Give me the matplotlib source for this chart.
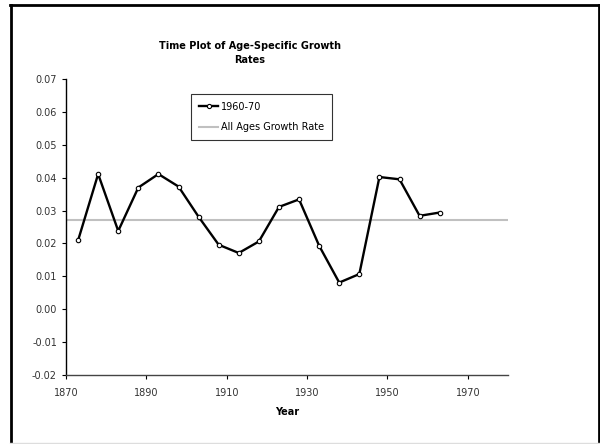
import matplotlib.pyplot as plt
from matplotlib.lines import Line2D

# data
years = [1873, 1878, 1883, 1888, 1893, 1898, 1903, 1908, 1913, 1918,
         1923, 1928, 1933, 1938, 1943, 1948, 1953, 1958, 1963]
rates_1960_70 = [0.0209, 0.0411, 0.0238, 0.0370, 0.0411, 0.0373, 0.0281,
                 0.0196, 0.0171, 0.0206, 0.0311, 0.0334, 0.0193, 0.0081,
                 0.0107, 0.0402, 0.0395, 0.0284, 0.0294]
all_ages_rate = 0.0272
x_ticks = [1870, 1890, 1910, 1930, 1950, 1970]
y_ticks = [-0.02, -0.01, 0.00, 0.01, 0.02, 0.03, 0.04, 0.05, 0.06, 0.07]

W, H = 600, 444
fig = plt.figure(figsize=(6, 4.44), dpi=100)
ax = fig.add_axes([66 / W, 1 - 375 / H, (508 - 66) / W, (375 - 79) / H])

ax.axhline(all_ages_rate, color='#c0c0c0', lw=1.5, label='All Ages Growth Rate', zorder=2)
ax.plot(years, rates_1960_70, color='black', lw=1.7, marker='o', ms=3.2,
        mfc='white', mec='black', mew=0.8, label='1960-70', zorder=3)

ax.set_xlim(1870, 1980)
ax.set_ylim(-0.02, 0.07)
ax.set_xticks(x_ticks)
ax.set_yticks(y_ticks)
ax.set_yticklabels(['%.2f' % v for v in y_ticks])
ax.tick_params(labelsize=7, colors='black', labelcolor='#333333', length=3, width=0.8, direction='out')
ax.tick_params(axis='x', pad=6)
for s in ['top', 'right']:
    ax.spines[s].set_visible(False)
ax.spines['left'].set_linewidth(1.0)
ax.spines['bottom'].set_linewidth(1.0)
ax.spines['bottom'].set_color('#444444')
ax.set_xlabel('Year', fontsize=7, fontweight='bold', labelpad=7)

# legend, order as in the reference
h, l = ax.get_legend_handles_labels()
leg = ax.legend([h[1], h[0]], [l[1], l[0]], loc='upper left',
                bbox_to_anchor=(191 / W, 1 - 94 / H), bbox_transform=fig.transFigure,
                fontsize=7, frameon=True, fancybox=False, edgecolor='black',
                handlelength=2.0, handletextpad=0.3, borderpad=0.8, labelspacing=1.1,
                borderaxespad=0)
leg.get_frame().set_linewidth(0.8)
leg._legend_box.align = 'left'
leg.set_bbox_to_anchor((191 / W, 1 - 94 / H), transform=fig.transFigure)
for line in leg.get_lines():
    line.set_markersize(3)

fig.text(250 / W, 1 - 41 / H, 'Time Plot of Age-Specific Growth\nRates',
         ha='center', va='top', fontsize=7, fontweight='bold', linespacing=1.5)

# outer frame of the chart area
fig.add_artist(Line2D([11 / W, 11 / W], [1 - 5 / H, 1 - 443 / H], transform=fig.transFigure, color='black', lw=2))
fig.add_artist(Line2D([10 / W, 599 / W], [1 - 5 / H, 1 - 5 / H], transform=fig.transFigure, color='black', lw=2))
fig.add_artist(Line2D([599 / W, 599 / W], [1 - 5 / H, 1 - 443 / H], transform=fig.transFigure, color='black', lw=2))
fig.add_artist(Line2D([10 / W, 599 / W], [1 - 443 / H, 1 - 443 / H], transform=fig.transFigure, color='#dddddd', lw=1))

fig.savefig('out.png', dpi=100)
